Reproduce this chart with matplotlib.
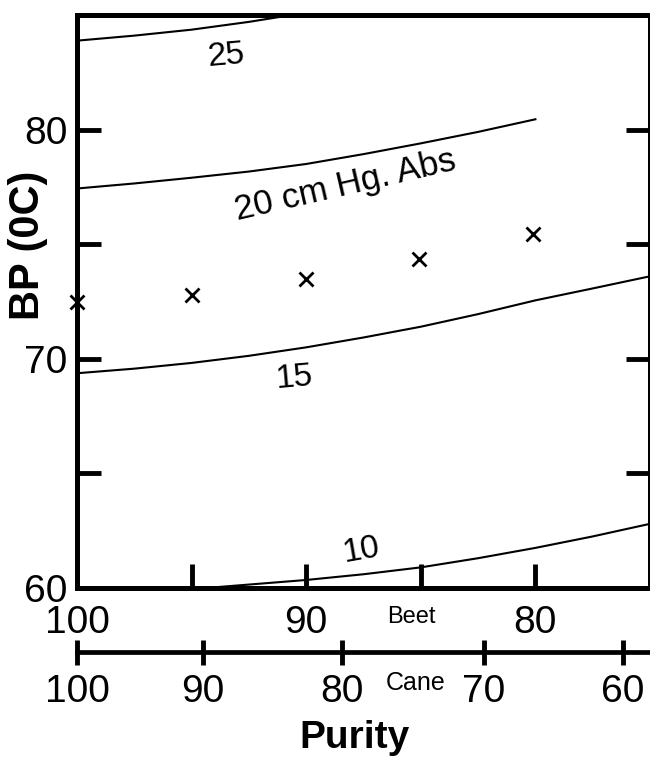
import numpy as np
import matplotlib
matplotlib.use("Agg")
from matplotlib import pyplot as plt
from matplotlib.ticker import FixedLocator, FixedFormatter

plt.rcParams['font.family'] = ['Liberation Sans', 'DejaVu Sans']

# beet purity (x) and boiling point (y)
curve_10_x = [95, 92.5, 90, 87.5, 85, 82.5, 80, 77.5, 75]
curve_10_y = [59.95, 60.15, 60.35, 60.6, 60.9, 61.3, 61.75, 62.25, 62.8]
curve_15_x = [100, 97.5, 95, 92.5, 90, 87.5, 85, 82.5, 80, 77.5, 75]
curve_15_y = [69.37, 69.57, 69.82, 70.13, 70.5, 70.93, 71.4, 71.95, 72.55,
              73.07, 73.6]
curve_20_x = [100, 97.5, 95, 92.5, 90, 87.5, 85, 82.5, 80]
curve_20_y = [77.43, 77.65, 77.9, 78.17, 78.5, 78.93, 79.4, 79.9, 80.45]
curve_25_x = [100, 97.5, 95, 92.5, 90]
curve_25_y = [83.88, 84.1, 84.36, 84.7, 85.1]

pts_x = [100, 95, 90, 85.1, 80.1]
pts_y = [72.48, 72.8, 73.5, 74.37, 75.46]

beet_ticks = [100, 95, 90, 85, 80]
beet_labels = ['100', '', '90', '', '80']
bp_ticks = [60, 65, 70, 75, 80]
bp_labels = ['60', '', '70', '', '80']

# cane purity scale, placed at beet-purity positions
cane_labels = ['100', '90', '80', '70', '60']
cane_pos = [100, 94.52, 88.43, 82.26, 76.17]

fig = plt.figure(figsize=(6.5, 7.59), dpi=100)
ax = fig.add_axes([77 / 650, 1 - 588 / 759, 1 - 77 / 650, 573 / 759])

lw = 1.5
for cx, cy in [(curve_10_x, curve_10_y), (curve_15_x, curve_15_y),
               (curve_20_x, curve_20_y), (curve_25_x, curve_25_y)]:
    ax.plot(cx, cy, color='black', lw=lw)

ax.plot(pts_x, pts_y, ls='none', marker='x', ms=9.5, mew=2.0,
        color='black', clip_on=False, zorder=5)

ax.set_xlim(100, 75)
ax.set_ylim(60, 85)

ax.xaxis.set_major_locator(FixedLocator(beet_ticks))
ax.xaxis.set_major_formatter(FixedFormatter(beet_labels))
ax.yaxis.set_major_locator(FixedLocator(bp_ticks))
ax.yaxis.set_major_formatter(FixedFormatter(bp_labels))

for s in ax.spines.values():
    s.set_linewidth(3.6)
ax.tick_params(axis='both', direction='in', length=17, width=3.5,
               top=True, right=True, labelsize=28)
ax.tick_params(axis='x', pad=12)
ax.tick_params(axis='y', pad=7)

# curve labels
tkw = dict(fontsize=24, ha='center', va='center')
ax.text(93.5, 83.2, '25', rotation=5, **tkw)
ax.text(88.3, 77.55, '20 cm Hg. Abs', rotation=13, fontsize=25,
        ha='center', va='center')
ax.text(90.5, 69.15, '15', rotation=5, **tkw)
ax.text(87.6, 61.65, '10', rotation=10, **tkw)

# cane scale below
ax2 = ax.twiny()
ax2.set_xlim(ax.get_xlim())
for name in ['top', 'left', 'right']:
    ax2.spines[name].set_visible(False)
ax2.spines['bottom'].set_visible(True)
ax2.spines['bottom'].set_position(('axes', -64 / 573))
ax2.spines['bottom'].set_linewidth(3.4)
ax2.xaxis.set_ticks_position('bottom')
ax2.xaxis.set_label_position('bottom')
ax2.xaxis.set_major_locator(FixedLocator(cane_pos))
ax2.xaxis.set_major_formatter(FixedFormatter(cane_labels))
ax2.tick_params(axis='x', direction='inout', length=18, width=3.5,
                labelsize=28, pad=7)

ax.text((411 - 77) / 573, (588 - 617) / 573, 'Beet', transform=ax.transAxes,
        fontsize=17, ha='center', va='center')
ax.text((416 - 77) / 573, (588 - 683) / 573, 'Cane', transform=ax.transAxes,
        fontsize=18, ha='center', va='center')
ax.text((354 - 77) / 573, (588 - 738) / 573, 'Purity', transform=ax.transAxes,
        fontsize=28, fontweight='bold', ha='center', va='center')
ax.text((28 - 77) / 573, (588 - 245) / 573, 'BP (0C)', transform=ax.transAxes,
        fontsize=30, fontweight='bold', rotation=90, ha='center', va='center')

fig.savefig('out.png', dpi=100)
